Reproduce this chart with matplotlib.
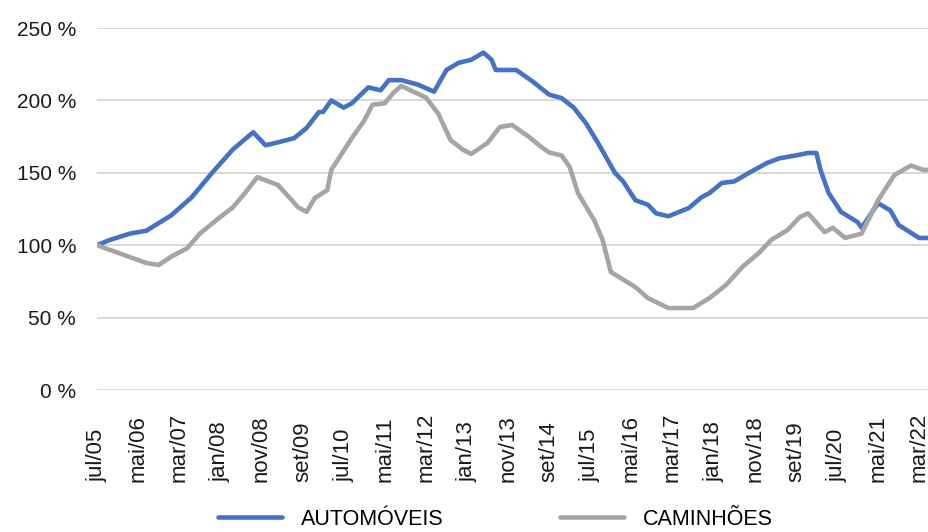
import matplotlib.pyplot as plt

# months counted from jul/05 (0) ; values in % of jul/05
auto_months = [0, 3, 8, 12, 18, 23, 28, 33, 38, 41, 44, 48, 51, 54, 55, 57, 60, 62, 66, 69,
               71, 74, 78, 82, 85, 88, 91, 94, 96, 97, 102, 106, 110, 113, 116, 119, 122,
               126, 128, 131, 134, 136, 139, 144, 147, 149, 152, 155, 159, 163, 166, 170,
               173, 175, 176, 178, 181, 185, 186, 190, 193, 195, 200, 202]
auto_values = [100, 103.5, 108, 110, 120.5, 133, 150, 166, 178, 169, 171, 174, 181, 192, 192,
               200, 195, 198, 209, 207, 214, 214, 211, 206, 221, 226, 228, 233, 228, 221, 221,
               213, 204, 201.6, 195, 184, 170, 150, 144, 131, 128, 122, 120, 125.7, 133, 136,
               143, 144, 150.6, 156.8, 160, 162, 163.7, 163.7, 152, 136, 123, 116, 112, 129,
               124, 114, 105, 105]

truck_months = [0, 12, 15, 18, 22, 25, 30, 33, 36, 39, 44, 49, 51, 53, 56, 57, 62, 65, 67, 70,
                72, 74, 77, 80, 83, 86, 89, 91, 95, 98, 101, 105, 108, 110, 113, 115, 117, 121,
                123, 125, 127, 131, 134, 139, 145, 149, 153, 157, 161, 164, 168, 171, 173, 177,
                179, 182, 186, 188, 190, 194, 198, 201, 202]
truck_values = [100, 87.7, 86.3, 92, 98, 108, 119.5, 126, 136, 147, 141.6, 126, 123, 132.6, 138,
                152, 174, 186, 197, 198, 205, 210, 206, 202, 191, 172.6, 166, 163, 170.6, 181.6,
                183, 175, 168, 164, 162, 154, 136, 117, 103.6, 81.5, 78, 71, 63.5, 56.6, 56.6,
                63.5, 72.5, 85, 94.6, 103.6, 110.5, 119.5, 122, 109, 112, 105, 108, 119.5, 131,
                148.5, 155, 152, 152]

tick_labels = ['jul/05', 'mai/06', 'mar/07', 'jan/08', 'nov/08', 'set/09', 'jul/10', 'mai/11',
               'mar/12', 'jan/13', 'nov/13', 'set/14', 'jul/15', 'mai/16', 'mar/17', 'jan/18',
               'nov/18', 'set/19', 'jul/20', 'mai/21', 'mar/22']

plt.rcParams['font.family'] = ['Liberation Sans', 'DejaVu Sans']

fig = plt.figure(figsize=(9.29, 5.32), dpi=100)
ax = fig.add_axes([97 / 929, 1 - 390 / 532, 1 - 97 / 929, (390 - 28) / 532])

ax.plot(auto_months, auto_values, color='#4472C4', lw=3.3, label='AUTOMÓVEIS',
        solid_capstyle='round', solid_joinstyle='round', zorder=3)
ax.plot(truck_months, truck_values, color='#A5A5A5', lw=3.3, label='CAMINHÕES',
        solid_capstyle='round', solid_joinstyle='round', zorder=4)

ax.set_xlim(0, 202.4)
ax.set_ylim(0, 250)
ax.set_yticks(range(0, 251, 50))
ax.set_yticklabels([f'{v} %' for v in range(0, 251, 50)], fontsize=15, color='#1a1a1a')
ax.set_xticks(range(0, 201, 10))
ax.set_xticklabels(tick_labels, rotation=90, fontsize=16, color='#1a1a1a')
# labels start at a common baseline (bottom) like the original
for lab in ax.get_xticklabels():
    lab.set_va('bottom')
ax.tick_params(axis='both', length=0)
ax.tick_params(axis='y', pad=15)
ax.tick_params(axis='x', pad=66)
ax.grid(axis='y', color='#D9D9D9', lw=1.4)
ax.set_axisbelow(True)
for s in ax.spines.values():
    s.set_visible(False)

handles, labels = ax.get_legend_handles_labels()
fig.legend(handles, labels, loc='center', bbox_to_anchor=(0.533, 0.024), ncol=2,
           frameon=False, handlelength=3.0, columnspacing=5.4, handletextpad=0.85,
           prop={'size': 15.5})

fig.savefig('out.png', dpi=100)
